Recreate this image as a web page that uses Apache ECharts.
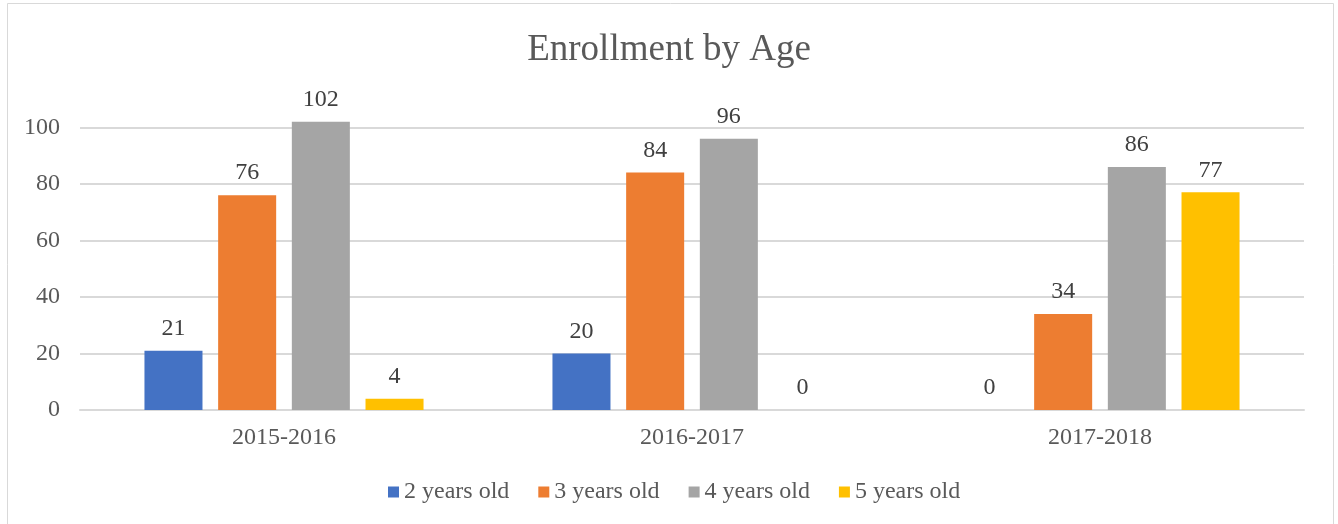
<!DOCTYPE html>
<html><head><meta charset="utf-8">
<script src="https://cdn.jsdelivr.net/npm/echarts@6/dist/echarts.min.js"></script>
<style>html,body{margin:0;padding:0;background:#fff}#c{width:1338px;height:524px}</style>
</head><body><div id="c"></div>
<script>
const categories = ['2015-2016', '2016-2017', '2017-2018'];
const seriesNames = ['2 years old', '3 years old', '4 years old', '5 years old'];
const age2 = [21, 20, 0];
const age3 = [76, 84, 34];
const age4 = [102, 96, 86];
const age5 = [4, 0, 77];
const colors = ['#4472C4', '#ED7D31', '#A5A5A5', '#FFC000'];
const values = [age2, age3, age4, age5];
const font = '"Liberation Serif", "Times New Roman", serif';

const chart = echarts.init(document.getElementById('c'));
chart.setOption({
  backgroundColor: '#fff',
  animation: false,
  color: colors,
  title: {
    text: 'Enrollment by Age', left: 'center', top: 27,
    textStyle: { fontFamily: font, fontSize: 37, fontWeight: 'normal', color: '#595959' }
  },
  graphic: [{ type: 'rect', shape: { x: 7.5, y: 3.5, width: 1326, height: 540 },
    style: { fill: 'none', stroke: '#d9d9d9', lineWidth: 1 }, silent: true }],
  legend: {
    bottom: 15, left: 383, itemWidth: 11, itemHeight: 11, itemGap: 29,
    icon: 'rect',
    textStyle: { fontFamily: font, fontSize: 24, color: '#595959' },
    data: seriesNames
  },
  grid: { left: 80, right: 34, top: 70.8, bottom: 114, containLabel: false },
  xAxis: {
    type: 'category', data: categories,
    axisLine: { lineStyle: { color: '#d9d9d9', width: 2 } },
    axisTick: { show: false },
    axisLabel: { fontFamily: font, fontSize: 24, color: '#595959', margin: 16 }
  },
  yAxis: {
    type: 'value', min: 0, max: 120, interval: 20,
    axisLine: { show: false }, axisTick: { show: false },
    axisLabel: { fontFamily: font, fontSize: 24, color: '#595959', margin: 20, showMaxLabel: false },
    splitLine: { showMaxLine: false, lineStyle: { color: '#d9d9d9', width: 2 } }
  },
  series: seriesNames.map((n, i) => ({
    name: n, type: 'bar', data: values[i],
    barGap: '27%', barCategoryGap: '31.6%',
    itemStyle: { color: colors[i] },
    label: { show: true, position: 'top', distance: 10, fontFamily: font, fontSize: 24, color: '#404040' }
  }))
});
</script></body></html>
